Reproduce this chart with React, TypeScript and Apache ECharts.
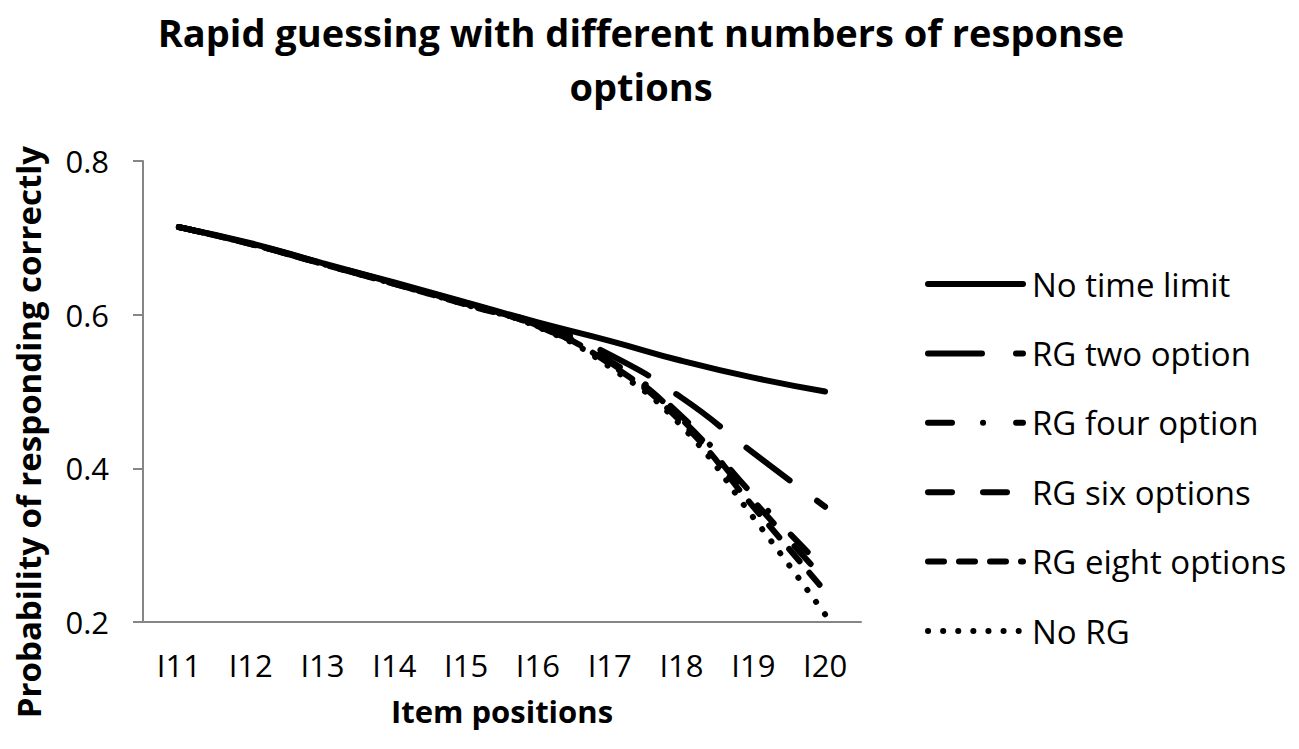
import React, { useEffect, useRef } from "react";
import * as echarts from "echarts";

const categories = ["I11", "I12", "I13", "I14", "I15", "I16", "I17", "I18", "I19", "I20"];
const seriesNames = ["No time limit", "RG two option", "RG four option", "RG six options", "RG eight options", "No RG"];
const noTimeLimit = [0.714, 0.693, 0.667, 0.642, 0.616, 0.59, 0.566, 0.54, 0.518, 0.5];
const rgTwo = [0.714, 0.692, 0.667, 0.641, 0.615, 0.588, 0.548, 0.492, 0.42, 0.35];
const rgFour = [0.714, 0.692, 0.666, 0.641, 0.614, 0.586, 0.54, 0.468, 0.365, 0.268];
const rgSix = [0.714, 0.692, 0.666, 0.64, 0.614, 0.585, 0.538, 0.464, 0.358, 0.255];
const rgEight = [0.714, 0.692, 0.666, 0.64, 0.613, 0.585, 0.536, 0.46, 0.35, 0.24];
const noRG = [0.714, 0.692, 0.666, 0.64, 0.613, 0.584, 0.532, 0.455, 0.336, 0.21];
const yTicks = [0.2, 0.4, 0.6, 0.8];

const seriesValues = [noTimeLimit, rgTwo, rgFour, rgSix, rgEight, noRG];
const dashTypes: any[] = ["solid", [54, 34], [24, 31, 0.1, 33], [24, 31], [16, 15], [0.1, 15]];

const FONT = "'Open Sans', sans-serif";
const LW = 6;

export default function App() {
  const ref = useRef<HTMLDivElement>(null);
  useEffect(() => {
    if (!ref.current) return;
    const chart = echarts.init(ref.current, undefined, { renderer: "svg" });
    const series = seriesNames.map((name, i) => ({
      name,
      type: "line",
      data: seriesValues[i],
      smooth: true,
      symbol: "none",
      lineStyle: { color: "#000", width: LW, type: dashTypes[i], cap: "round" },
      itemStyle: { color: "#000" },
    }));
    chart.setOption({
      animation: false,
      backgroundColor: "#fff",
      title: {
        text: "Rapid guessing with different numbers of response\noptions",
        left: 641,
        textAlign: "center",
        top: 5,
        padding: 0,
        textStyle: { fontFamily: FONT, fontWeight: "bold", fontSize: 38, lineHeight: 54, color: "#000" },
      },
      grid: { left: 143, top: 161, right: 438, bottom: 127, containLabel: false },
      legend: {
        orient: "vertical",
        left: 925,
        top: 264,
        padding: 0,
        itemWidth: 95,
        itemHeight: 40,
        itemGap: 29.4,
        selectedMode: false,
        itemStyle: { opacity: 0 },
        lineStyle: { width: LW, cap: "round" },
        textStyle: { fontFamily: FONT, fontSize: 33, color: "#000", lineHeight: 40, padding: [0, 0, 0, 4] },
        data: seriesNames.map((name, i) => ({
          name,
          lineStyle: { width: LW, type: dashTypes[i], cap: "round", color: "#000" },
        })),
      },
      xAxis: {
        type: "category",
        data: categories,
        boundaryGap: true,
        name: "Item positions",
        nameLocation: "middle",
        nameGap: 73,
        nameTextStyle: { fontFamily: FONT, fontWeight: "bold", fontSize: 31, color: "#000" },
        axisLine: { lineStyle: { color: "#868686", width: 2 } },
        axisTick: { length: 10, lineStyle: { color: "#868686", width: 2 } },
        axisLabel: { fontFamily: FONT, fontSize: 31, color: "#000", margin: 27 },
        splitLine: { show: false },
      },
      yAxis: {
        type: "value",
        min: 0.2,
        max: 0.8,
        interval: 0.2,
        axisLine: { show: true, lineStyle: { color: "#868686", width: 2 } },
        axisTick: { show: true, length: 10, lineStyle: { color: "#868686", width: 2 } },
        axisLabel: {
          fontFamily: FONT,
          fontSize: 31,
          color: "#000",
          margin: 34,
          formatter: (v: number) => {
            const t = yTicks.find((y) => Math.abs(y - v) < 1e-9);
            return (t !== undefined ? t : v).toFixed(1);
          },
        },
        splitLine: { show: false },
      },
      graphic: [
        {
          type: "text",
          x: 28,
          y: 432,
          rotation: Math.PI / 2,
          style: {
            text: "Probability of responding correctly",
            fontFamily: FONT,
            fontWeight: "bold",
            fontSize: 33,
            fill: "#000",
            textAlign: "center",
            textVerticalAlign: "middle",
          },
        },
      ],
      series,
    });
    return () => chart.dispose();
  }, []);
  return (
    <div
      ref={ref}
      style={{ position: "fixed", left: 0, top: 0, width: 1299, height: 749, background: "#fff" }}
    />
  );
}
